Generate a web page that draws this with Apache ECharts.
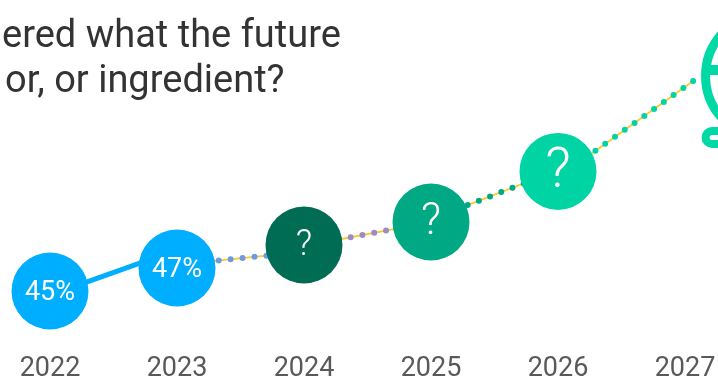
<!DOCTYPE html>
<html>
<head>
<meta charset="utf-8">
<style>html,body{margin:0;padding:0;background:#fff;overflow:hidden}#chart{width:718px;height:378px}</style>
<script src="https://cdn.jsdelivr.net/npm/echarts@6/dist/echarts.min.js"></script>
</head>
<body>
<div id="chart"></div>
<script>
// Yearly share shown in the bubbles; later years are still unknown.
const years = [2022, 2023, 2024, 2025, 2026];
const axisYears = [2022, 2023, 2024, 2025, 2026, 2027];
const bubbleValues = [45, 47, 49, 51, 55.4];
const bubbleLabels = ['45%', '47%', '?', '?', '?'];

// Connector segments between bubbles.
const solidLink = [[2022, 44.65], [2023, 48.57]];
const dottedLinkA = [[2023, 47.3], [2024, 48.4]];
const dottedLinkB = [[2024, 48.9], [2025, 51]];
const dottedLinkC = [[2025, 51.25], [2026, 55.5]];
const dottedLinkD = [[2026, 54.87], [2027.065, 63.26]];

// Anchor of the partly visible end-of-trend icon.
const iconAnchor = [[2027.65, 63.7]];

const bubbleColors = ['#00AEFF', '#00AEFF', '#006C54', '#00A983', '#00D4A4'];
const labelSizes = [27, 27, 36, 44, 56];
const labelWeights = [400, 400, 300, 300, 300];
const labelShift = [2, 2, 1, 1, 2];
const FONT = 'Roboto';
const MINT = '#00D9A6';

function dotted(data, dotColor, dashOffset) {
  return [
    { type: 'line', data, symbol: 'none', silent: true, z: 1,
      lineStyle: { color: '#FFC72C', width: 1.8 } },
    { type: 'line', data, symbol: 'none', silent: true, z: 2,
      lineStyle: { color: dotColor, width: 6, type: [0, 12], dashOffset, cap: 'round' } }
  ];
}

const chart = echarts.init(document.getElementById('chart'), null, { renderer: 'canvas' });
chart.setOption({
  animation: false,
  backgroundColor: '#fff',
  title: [
    { text: 'ered what the future', left: -3, top: 13,
      textStyle: { fontFamily: FONT, fontSize: 38, fontWeight: 400, color: '#333333' } },
    { text: 'or, or ingredient?', left: 0, top: 58,
      textStyle: { fontFamily: FONT, fontSize: 38, fontWeight: 400, color: '#333333' } }
  ],
  grid: { left: -77, width: 889, top: 3.5, height: 345, containLabel: false, outerBoundsMode: 'none' },
  xAxis: {
    type: 'value', min: 2021, max: 2028, interval: 1,
    axisLine: { show: false }, axisTick: { show: false }, splitLine: { show: false },
    axisLabel: {
      margin: 7, fontFamily: FONT, fontSize: 27, fontWeight: 400, color: '#595959',
      formatter: v => axisYears.includes(v) ? String(v) : ''
    }
  },
  yAxis: {
    type: 'value', min: 40, max: 70, interval: 10, show: false
  },
  series: [
    { type: 'line', data: solidLink, symbol: 'none', silent: true, z: 2,
      lineStyle: { color: '#00AEFF', width: 5 } },
    ...dotted(dottedLinkA, '#6F9BDC', 6.1),
    ...dotted(dottedLinkB, '#9A8CC6', 0.5),
    ...dotted(dottedLinkC, '#00A983', 8.7),
    ...dotted(dottedLinkD, '#00D4A4', 2),
    {
      type: 'scatter', symbol: 'circle', symbolSize: 77, z: 5,
      data: years.map((y, i) => ({
        value: [y, bubbleValues[i]],
        itemStyle: { color: bubbleColors[i], opacity: 1 },
        label: {
          show: true, position: 'inside', formatter: bubbleLabels[i], offset: [0, labelShift[i]],
          fontFamily: FONT, fontWeight: labelWeights[i], fontSize: labelSizes[i], color: '#fff'
        }
      }))
    },
    {
      // Ring, crossbar and rounded base of the icon, placed from its data anchor.
      type: 'custom', z: 4, silent: true, data: iconAnchor,
      encode: { x: 0, y: 1 },
      clip: false,
      renderItem: (params, api) => {
        const c = api.coord([api.value(0), api.value(1)]);
        return {
          type: 'group',
          children: [
            { type: 'circle', shape: { cx: c[0], cy: c[1], r: 62 },
              style: { fill: null, stroke: MINT, lineWidth: 9 } },
            { type: 'rect', shape: { x: c[0] - 62, y: c[1] - 11, width: 124, height: 10 }, style: { fill: MINT } },
            { type: 'rect', shape: { x: c[0] - 62, y: c[1] + 55, width: 124, height: 13, r: 6.5 },
              style: { fill: null, stroke: MINT, lineWidth: 8 } }
          ]
        };
      }
    }
  ]
});
</script>
</body>
</html>
